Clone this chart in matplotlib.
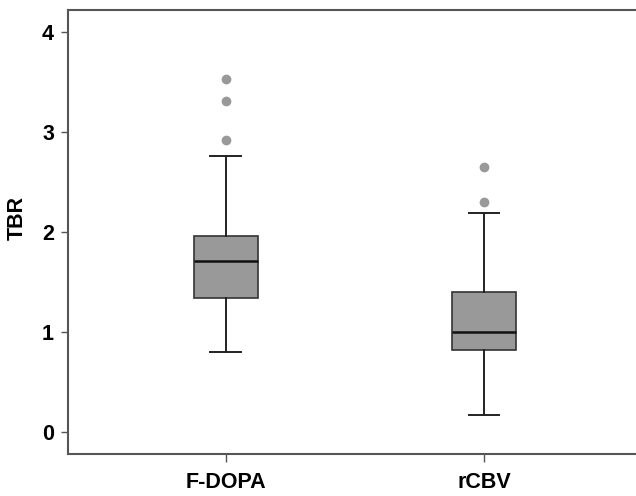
import matplotlib
matplotlib.use("Agg")
import matplotlib.pyplot as plt

categories = ["F-DOPA", "rCBV"]
whisker_low = [0.80, 0.17]
q1 = [1.34, 0.82]
median = [1.71, 1.00]
q3 = [1.96, 1.40]
whisker_high = [2.76, 2.19]
outliers = [[3.53, 3.31, 2.92], [2.65, 2.30]]
y_ticks = [0, 1, 2, 3, 4]

plt.rcParams['font.family'] = ['Liberation Sans', 'DejaVu Sans']

fig = plt.figure(figsize=(6.36, 4.96), dpi=100)
ax = fig.add_axes([68/636, 42/496, 1 - 68/636, 444.5/496])

stats = []
for i, name in enumerate(categories):
    stats.append(dict(label=name, whislo=whisker_low[i], q1=q1[i], med=median[i],
                      q3=q3[i], whishi=whisker_high[i], fliers=outliers[i]))

ax.bxp(stats, positions=[1, 2], widths=0.25, patch_artist=True, showfliers=True,
       boxprops=dict(facecolor='#999999', edgecolor='#333333', linewidth=1.2),
       medianprops=dict(color='#111111', linewidth=1.8),
       whiskerprops=dict(color='#222222', linewidth=1.4),
       capprops=dict(color='#222222', linewidth=1.4),
       capwidths=0.12,
       flierprops=dict(marker='o', markerfacecolor='#999999', markeredgecolor='#999999',
                       markersize=6))

ax.set_xlim(0.388, 2.589)
ax.set_ylim(-0.22, 4.225)
ax.set_yticks(y_ticks)
ax.set_yticklabels([str(t) for t in y_ticks])
ax.set_xticks([1, 2])
ax.set_xticklabels(categories)

for s in ['left', 'top', 'bottom']:
    ax.spines[s].set_color('#555555')
    ax.spines[s].set_linewidth(1.5)
ax.spines['right'].set_visible(False)

ax.tick_params(axis='y', length=5, width=1, color='#555555', pad=5, labelsize=15.5)
ax.tick_params(axis='x', length=6, width=1, color='#555555', pad=7, labelsize=15.5)
for lab in ax.get_xticklabels() + ax.get_yticklabels():
    lab.set_fontweight('bold')

ax.set_ylabel('TBR', fontsize=15.5, fontweight='bold', labelpad=10, y=0.53)

fig.savefig('out.png', dpi=100)
